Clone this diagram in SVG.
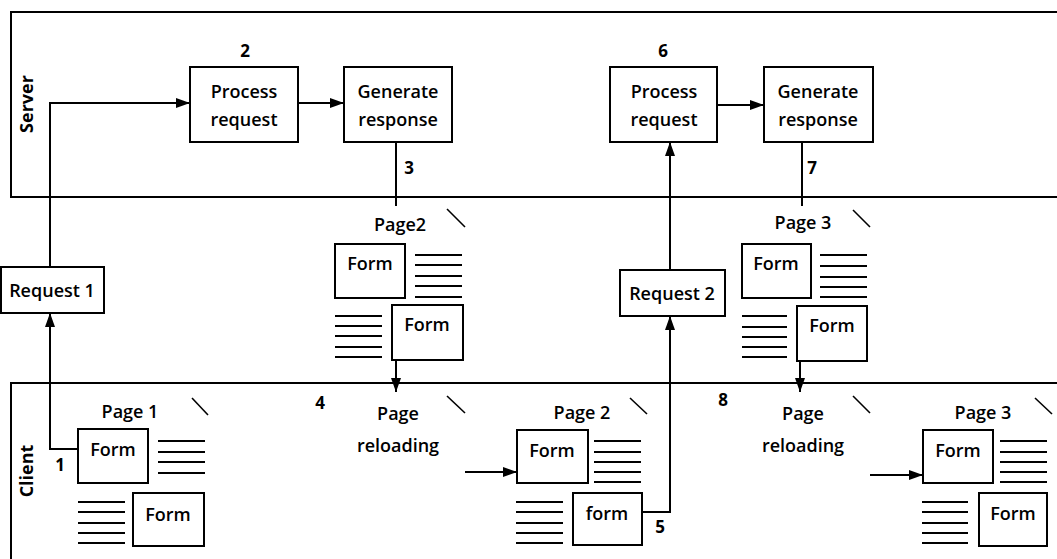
<svg xmlns="http://www.w3.org/2000/svg" width="1057" height="559" viewBox="0 0 1057 559">
<style>
  .box{fill:#fff;stroke:#000;stroke-width:2}
  .lane{fill:none;stroke:#000;stroke-width:2}
  .t{font-family:"Open Sans","DejaVu Sans",sans-serif;font-size:18px;font-weight:600;text-anchor:middle;fill:#000}
  .n{font-family:"Open Sans","DejaVu Sans",sans-serif;font-size:17px;font-weight:bold;text-anchor:middle;fill:#000}
  .lbl{font-family:"Open Sans","DejaVu Sans",sans-serif;font-size:18px;font-weight:bold;text-anchor:middle;fill:#000}
  .c{fill:none;stroke:#000;stroke-width:2}
  .ln{stroke:#000;stroke-width:2}
  .sl{stroke:#000;stroke-width:1.6}
</style>
<defs>
  <marker id="ah" markerUnits="userSpaceOnUse" markerWidth="14" markerHeight="10" refX="14" refY="5" orient="auto">
    <path d="M0,0 L14,5 L0,10 z" fill="#000"/>
  </marker>
</defs>
<rect width="1057" height="559" fill="#fff"/>

<g id="server-lane">
  <path class="lane" d="M1060 12 H11 V197 H1060"/>
  <text class="lbl" transform="translate(33 104) rotate(-90)">Server</text>
</g>
<g id="client-lane">
  <path class="lane" d="M1060 383 H11 V562"/>
  <text class="lbl" transform="translate(33 471) rotate(-90)">Client</text>
</g>

<g id="connectors">
  <path class="c" d="M50 267 V103 H190" marker-end="url(#ah)"/>
  <path class="c" d="M298 103 H344" marker-end="url(#ah)"/>
  <path class="c" d="M396 142 V206"/>
  <path class="c" d="M396 361 V392" marker-end="url(#ah)"/>
  <path class="c" d="M78 449 H50 V313" marker-end="url(#ah)"/>
  <path class="c" d="M465 472 H517" marker-end="url(#ah)"/>
  <path class="c" d="M642 512 H670 V316" marker-end="url(#ah)"/>
  <path class="c" d="M670 270 V142" marker-end="url(#ah)"/>
  <path class="c" d="M717 105 H764" marker-end="url(#ah)"/>
  <path class="c" d="M802 142 V206"/>
  <path class="c" d="M800 361 V392" marker-end="url(#ah)"/>
  <path class="c" d="M870 475 H923" marker-end="url(#ah)"/>
</g>

<g id="labels">
  <text class="n" x="245" y="57">2</text>
  <text class="n" x="409" y="174">3</text>
  <text class="n" x="320" y="409">4</text>
  <text class="n" x="660" y="533">5</text>
  <text class="n" x="663" y="57">6</text>
  <text class="n" x="812" y="174">7</text>
  <text class="n" x="723" y="406">8</text>
  <text class="n" x="60" y="471">1</text>
</g>

<g id="process-request-1">
  <rect class="box" x="190" y="67" width="108" height="75"/>
  <text class="t" x="244" y="98">Process</text>
  <text class="t" x="244" y="126">request</text>
</g>
<g id="generate-response-1">
  <rect class="box" x="344" y="67" width="108" height="75"/>
  <text class="t" x="398" y="98">Generate</text>
  <text class="t" x="398" y="126">response</text>
</g>
<g id="process-request-2">
  <rect class="box" x="610" y="67" width="107" height="75"/>
  <text class="t" x="664" y="98">Process</text>
  <text class="t" x="664" y="126">request</text>
</g>
<g id="generate-response-2">
  <rect class="box" x="764" y="67" width="109" height="75"/>
  <text class="t" x="818" y="98">Generate</text>
  <text class="t" x="818" y="126">response</text>
</g>

<g id="request-1">
  <rect class="box" x="1" y="267" width="103" height="46"/>
  <text class="t" x="52" y="297">Request 1</text>
</g>
<g id="request-2">
  <rect class="box" x="620" y="270" width="105" height="46"/>
  <text class="t" x="672" y="300">Request 2</text>
</g>

<g id="page2-server">
  <text class="t" x="400" y="231">Page2</text>
  <line class="sl" x1="447" y1="209" x2="465" y2="227"/>
  <rect class="box" x="335" y="244" width="70" height="54"/>
  <text class="t" x="370" y="270">Form</text>
  <g class="ln">
    <line x1="415" y1="255" x2="462" y2="255"/><line x1="415" y1="265" x2="462" y2="265"/><line x1="415" y1="276" x2="462" y2="276"/><line x1="415" y1="286" x2="462" y2="286"/><line x1="415" y1="297" x2="462" y2="297"/>
    <line x1="335" y1="316" x2="382" y2="316"/><line x1="335" y1="326" x2="382" y2="326"/><line x1="335" y1="336" x2="382" y2="336"/><line x1="335" y1="347" x2="382" y2="347"/><line x1="335" y1="357" x2="382" y2="357"/>
  </g>
  <rect class="box" x="392" y="305" width="71" height="55"/>
  <text class="t" x="427" y="331">Form</text>
</g>

<g id="page3-server">
  <text class="t" x="803" y="229">Page 3</text>
  <line class="sl" x1="853" y1="210" x2="870" y2="227"/>
  <rect class="box" x="742" y="244" width="69" height="54"/>
  <text class="t" x="776" y="270">Form</text>
  <g class="ln">
    <line x1="820" y1="255" x2="867" y2="255"/><line x1="820" y1="266" x2="867" y2="266"/><line x1="820" y1="277" x2="867" y2="277"/><line x1="820" y1="287" x2="867" y2="287"/><line x1="820" y1="297" x2="867" y2="297"/>
    <line x1="742" y1="316" x2="787" y2="316"/><line x1="742" y1="327" x2="787" y2="327"/><line x1="742" y1="337" x2="787" y2="337"/><line x1="742" y1="347" x2="787" y2="347"/><line x1="742" y1="357" x2="787" y2="357"/>
  </g>
  <rect class="box" x="797" y="306" width="70" height="55"/>
  <text class="t" x="832" y="332">Form</text>
</g>

<g id="page1-client">
  <text class="t" x="130" y="418">Page 1</text>
  <line class="sl" x1="192" y1="398" x2="208" y2="415"/>
  <rect class="box" x="78" y="429" width="70" height="54"/>
  <text class="t" x="113" y="456">Form</text>
  <g class="ln">
    <line x1="158" y1="441" x2="205" y2="441"/><line x1="158" y1="452" x2="205" y2="452"/><line x1="158" y1="462" x2="205" y2="462"/><line x1="158" y1="473" x2="205" y2="473"/>
    <line x1="78" y1="502" x2="125" y2="502"/><line x1="78" y1="512" x2="125" y2="512"/><line x1="78" y1="523" x2="125" y2="523"/><line x1="78" y1="533" x2="125" y2="533"/><line x1="78" y1="543" x2="125" y2="543"/>
  </g>
  <rect class="box" x="133" y="493" width="71" height="53"/>
  <text class="t" x="168" y="521">Form</text>
</g>

<g id="page-reloading-1">
  <text class="t" x="398" y="420">Page</text>
  <text class="t" x="398" y="452">reloading</text>
  <line class="sl" x1="447" y1="396" x2="465" y2="413"/>
</g>

<g id="page2-client">
  <text class="t" x="582" y="419">Page 2</text>
  <line class="sl" x1="630" y1="398" x2="647" y2="414"/>
  <rect class="box" x="517" y="430" width="71" height="53"/>
  <text class="t" x="552" y="457">Form</text>
  <g class="ln">
    <line x1="594" y1="441" x2="641" y2="441"/><line x1="594" y1="452" x2="641" y2="452"/><line x1="594" y1="462" x2="641" y2="462"/><line x1="594" y1="472" x2="641" y2="472"/><line x1="594" y1="482" x2="641" y2="482"/>
    <line x1="516" y1="502" x2="563" y2="502"/><line x1="516" y1="512" x2="563" y2="512"/><line x1="516" y1="523" x2="563" y2="523"/><line x1="516" y1="533" x2="563" y2="533"/><line x1="516" y1="543" x2="563" y2="543"/>
  </g>
  <rect class="box" x="573" y="493" width="69" height="52"/>
  <text class="t" x="607" y="520">form</text>
</g>

<g id="page-reloading-2">
  <text class="t" x="803" y="420">Page</text>
  <text class="t" x="803" y="452">reloading</text>
  <line class="sl" x1="853" y1="396" x2="870" y2="413"/>
</g>

<g id="page3-client">
  <text class="t" x="983" y="419">Page 3</text>
  <line class="sl" x1="1035" y1="398" x2="1052" y2="414"/>
  <rect class="box" x="923" y="430" width="70" height="53"/>
  <text class="t" x="958" y="457">Form</text>
  <g class="ln">
    <line x1="1000" y1="441" x2="1047" y2="441"/><line x1="1000" y1="452" x2="1047" y2="452"/><line x1="1000" y1="462" x2="1047" y2="462"/><line x1="1000" y1="472" x2="1047" y2="472"/><line x1="1000" y1="482" x2="1047" y2="482"/>
    <line x1="922" y1="502" x2="968" y2="502"/><line x1="922" y1="512" x2="968" y2="512"/><line x1="922" y1="523" x2="968" y2="523"/><line x1="922" y1="533" x2="968" y2="533"/><line x1="922" y1="543" x2="968" y2="543"/>
  </g>
  <rect class="box" x="979" y="493" width="68" height="53"/>
  <text class="t" x="1013" y="520">Form</text>
</g>
</svg>
